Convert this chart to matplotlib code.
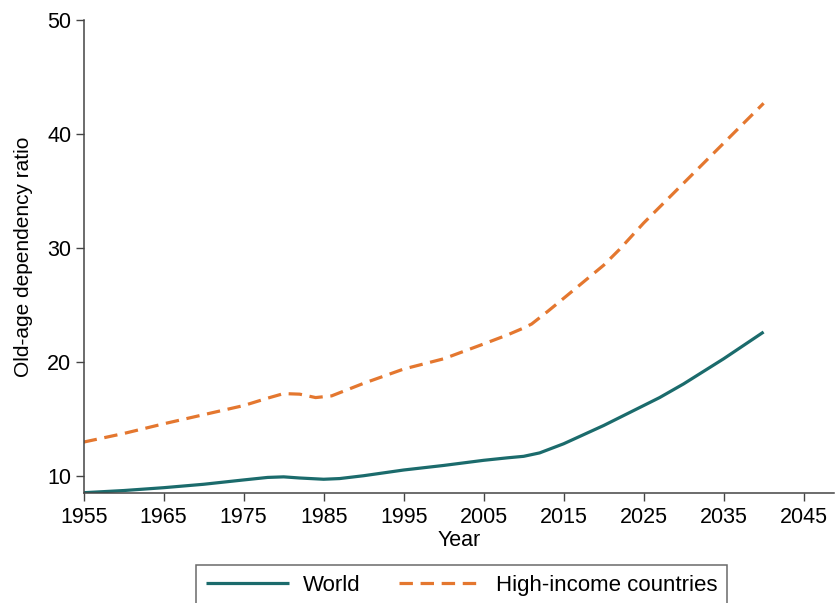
import matplotlib
matplotlib.use("Agg")
import matplotlib.pyplot as plt

plt.rcParams['font.family'] = ['Liberation Sans', 'DejaVu Sans']

# Old-age dependency ratio (population 65+ per 100 people aged 15-64)
world_years = [1955, 1960, 1965, 1970, 1975, 1978, 1980, 1982, 1985, 1987, 1990,
               1995, 2000, 2005, 2008, 2010, 2012, 2015, 2020, 2025, 2027, 2030, 2035, 2040]
world_values = [8.56, 8.75, 9.0, 9.3, 9.68, 9.9, 9.95, 9.85, 9.74, 9.8, 10.05,
                10.55, 10.95, 11.4, 11.62, 11.75, 12.05, 12.85, 14.45, 16.2, 16.9, 18.1, 20.3, 22.65]

high_years = [1955, 1960, 1965, 1970, 1975, 1978, 1980, 1982, 1984, 1986, 1988, 1990,
              1995, 2000, 2005, 2008, 2010, 2011, 2013, 2015, 2020, 2022, 2025, 2030, 2035, 2040]
high_values = [13.0, 13.75, 14.6, 15.4, 16.2, 16.85, 17.25, 17.2, 16.9, 17.05, 17.6, 18.15,
               19.4, 20.3, 21.6, 22.4, 23.0, 23.35, 24.45, 25.6, 28.5, 29.9, 32.2, 35.7, 39.2, 42.7]

x_ticks = [1955, 1965, 1975, 1985, 1995, 2005, 2015, 2025, 2035, 2045]
y_ticks = [10, 20, 30, 40, 50]

fig = plt.figure(figsize=(8.35, 6.03), dpi=100)
ax = fig.add_axes([0.1002, 0.1829, 0.8986, 0.7839])

teal = '#1b6b6c'
orange = '#e4772f'

ax.plot(world_years, world_values, color=teal, lw=2.3, label='World',
        solid_capstyle='butt', solid_joinstyle='round')
ax.plot(high_years, high_values, color=orange, lw=2.3, dashes=(4.2, 2.4),
        label='High-income countries')

ax.set_xlim(1955, 2048.8)
ax.set_ylim(8.56, 50)
ax.set_xticks(x_ticks)
ax.set_yticks(y_ticks)

for side in ('top', 'right'):
    ax.spines[side].set_visible(False)
for side in ('left', 'bottom'):
    ax.spines[side].set_color('#444444')
    ax.spines[side].set_linewidth(1.1)

ax.tick_params(axis='both', direction='out', length=6, width=1.0,
               color='#444444', labelsize=15.5, labelcolor='black', pad=3)
ax.tick_params(axis='x', pad=4)

ax.set_xlabel('Year', fontsize=15.5, labelpad=2)
ax.set_ylabel('Old-age dependency ratio', fontsize=15, labelpad=10)

leg = ax.legend(loc='upper center', bbox_to_anchor=(0.5035, -0.152),
                ncol=2, fontsize=16, frameon=True, fancybox=False,
                handlelength=3.75, handletextpad=0.6, columnspacing=1.75,
                borderpad=0.45, borderaxespad=0)
leg.get_frame().set_edgecolor('#444444')
leg.get_frame().set_linewidth(1.1)

fig.savefig('out.png', dpi=100)
